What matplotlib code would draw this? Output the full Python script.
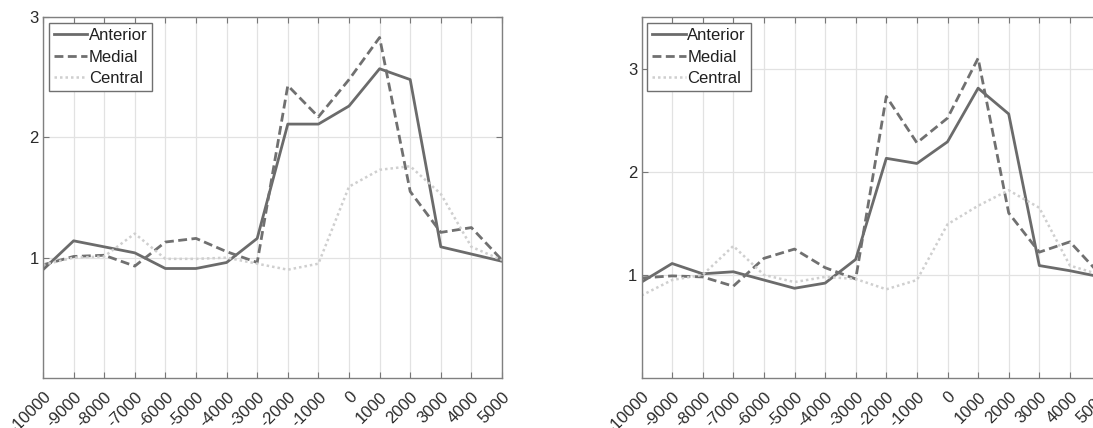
import matplotlib
matplotlib.use("Agg")
import matplotlib.pyplot as plt

plt.rcParams['font.family'] = ['Liberation Sans', 'DejaVu Sans']

time_ms = [-10000, -9000, -8000, -7000, -6000, -5000, -4000, -3000,
           -2000, -1000, 0, 1000, 2000, 3000, 4000, 5000]
tick_labels = [str(t) for t in time_ms]
series_names = ['Anterior', 'Medial', 'Central']

left_anterior = [0.90, 1.14, 1.09, 1.04, 0.91, 0.91, 0.96, 1.16,
                 2.11, 2.11, 2.26, 2.57, 2.48, 1.09, 1.03, 0.97]
left_medial = [0.94, 1.01, 1.02, 0.93, 1.13, 1.16, 1.05, 0.96,
               2.43, 2.17, 2.48, 2.83, 1.55, 1.21, 1.25, 0.98]
left_central = [0.94, 1.00, 1.01, 1.20, 0.99, 0.99, 1.00, 0.95,
                0.90, 0.95, 1.59, 1.73, 1.76, 1.53, 1.09, 0.98]

right_anterior = [0.93, 1.11, 1.01, 1.03, 0.95, 0.87, 0.92, 1.15,
                  2.13, 2.08, 2.29, 2.81, 2.56, 1.09, 1.04, 0.98]
right_medial = [0.97, 0.99, 0.98, 0.89, 1.16, 1.25, 1.07, 0.96,
                2.73, 2.28, 2.52, 3.10, 1.60, 1.22, 1.32, 1.00]
right_central = [0.80, 0.95, 1.00, 1.28, 1.00, 0.93, 0.98, 0.96,
                 0.86, 0.95, 1.49, 1.67, 1.82, 1.65, 1.09, 1.00]

W, H = 1093, 428
fig = plt.figure(figsize=(W / 100, H / 100), dpi=100)

ax_w = 459 / W
ax_b = (H - 378) / H
ax_h = 361 / H
ax_left = fig.add_axes([43 / W, ax_b, ax_w, ax_h])
ax_right = fig.add_axes([641.5 / W, ax_b, ax_w, ax_h])

styles = [
    dict(color='#6b6b6b', linestyle='-', linewidth=2.0),
    dict(color='#707070', linestyle=(0, (3.2, 1.6)), linewidth=2.0),
    dict(color='#cfcfcf', linestyle=(0, (1, 1.2)), linewidth=1.8),
]

FS = 12

def draw(ax, data, ymax):
    for name, vals, st in zip(series_names, data, styles):
        ax.plot(time_ms, vals, label=name, **st)
    ax.set_xlim(time_ms[0], time_ms[-1])
    ax.set_ylim(0, ymax)
    ax.set_xticks(time_ms)
    ax.set_xticklabels(tick_labels, rotation=45, ha='right', va='top',
                       rotation_mode='anchor', fontsize=FS, color='#2a2a2a')
    ax.set_yticks([1, 2, 3])
    ax.set_yticklabels(['1', '2', '3'], fontsize=FS, color='#2a2a2a')
    ax.grid(True, color='#e2e2e2', linewidth=0.9)
    ax.set_axisbelow(True)
    ax.tick_params(direction='in', length=4, width=0.8, color='#777777',
                   top=True, right=True, pad=3)
    ax.tick_params(axis='x', pad=8)
    for s in ax.spines.values():
        s.set_color('#808080')
        s.set_linewidth(1.0)
    leg = ax.legend(loc='upper left', fontsize=FS, handlelength=2.0,
                    handletextpad=0.1, borderpad=0.3, labelspacing=0.4,
                    borderaxespad=0.35, fancybox=False, framealpha=1,
                    edgecolor='#707070')
    leg.get_frame().set_linewidth(1.0)
    for t in leg.get_texts():
        t.set_color('#202020')

draw(ax_left, [left_anterior, left_medial, left_central], 3.0)
draw(ax_right, [right_anterior, right_medial, right_central], 3.5)

fig.savefig('out.png', dpi=100)
